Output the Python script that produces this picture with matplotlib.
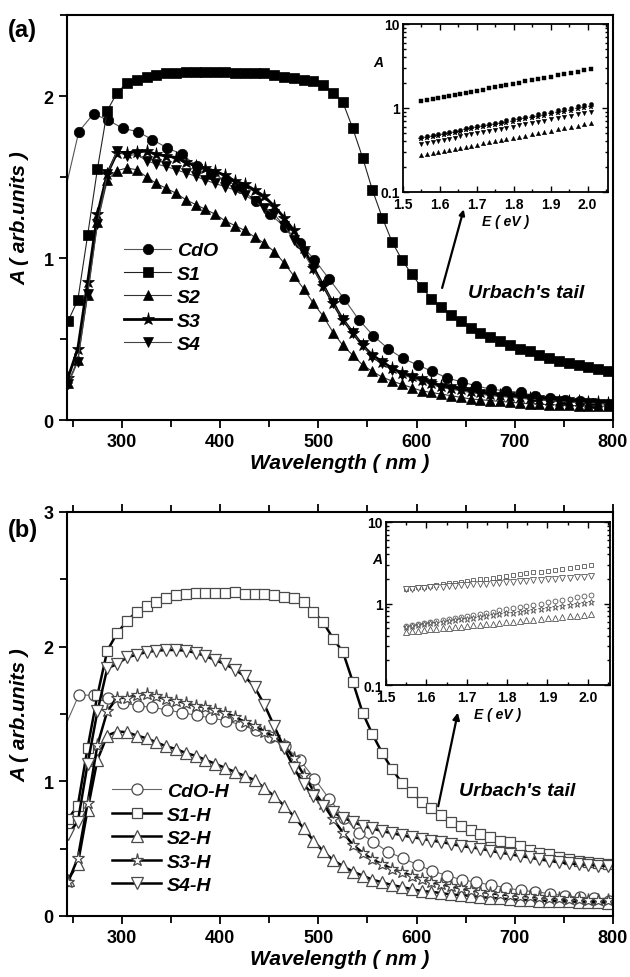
import matplotlib
matplotlib.use("Agg")
import matplotlib.pyplot as plt
from matplotlib.ticker import MultipleLocator, NullFormatter, LogLocator

plt.rcParams['font.family'] = ['Liberation Sans', 'DejaVu Sans']
plt.rcParams['font.weight'] = 'bold'
plt.rcParams['axes.labelweight'] = 'bold'

# ---------------- data ----------------
# wavelength grids (nm)
wl = [245, 255, 265, 275, 285, 295, 305, 315, 325, 335, 345, 355, 365, 375, 385, 395,
      405, 415, 425, 435, 445, 455, 465, 475, 485, 495, 505, 515, 525, 535, 545, 555,
      565, 575, 585, 595, 605, 615, 625, 635, 645, 655, 665, 675, 685, 695, 705, 715,
      725, 735, 745, 755, 765, 775, 785, 795]
wl_cdo = [232, 256, 271, 286, 301, 316, 331, 346, 361, 376, 391, 406, 421, 436, 451, 466,
          481, 496, 511, 526, 541, 556, 571, 586, 601, 616, 631, 646, 661, 676, 691, 706,
          721, 736, 751, 766, 781, 796]

# panel (a) as-deposited films
cdo_a = [1.15, 1.78, 1.89, 1.85, 1.80, 1.78, 1.73, 1.68, 1.64, 1.57, 1.52, 1.48, 1.43, 1.35,
         1.27, 1.19, 1.09, 0.99, 0.87, 0.75, 0.62, 0.52, 0.44, 0.38, 0.34, 0.30, 0.26, 0.235,
         0.21, 0.19, 0.18, 0.17, 0.15, 0.135, 0.125, 0.12, 0.105, 0.095]
s1_a = [0.61, 0.74, 1.14, 1.55, 1.91, 2.02,
        2.08, 2.10, 2.12, 2.13, 2.14, 2.145, 2.15, 2.15, 2.15, 2.15,
        2.15, 2.145, 2.14, 2.14, 2.14, 2.13, 2.12, 2.11, 2.10, 2.09,
        2.07, 2.02, 1.96, 1.80, 1.62, 1.42, 1.25, 1.10, 0.99, 0.90,
        0.82, 0.75, 0.70, 0.65, 0.61, 0.57, 0.54, 0.51, 0.49, 0.46,
        0.44, 0.425, 0.40, 0.38, 0.365, 0.35, 0.34, 0.33, 0.315, 0.30]
s2_a = [0.23, 0.37, 0.77, 1.22, 1.48, 1.54,
        1.555, 1.545, 1.50, 1.46, 1.43, 1.40, 1.36, 1.33, 1.30, 1.27,
        1.23, 1.20, 1.17, 1.13, 1.09, 1.04, 0.97, 0.89, 0.81, 0.72,
        0.64, 0.54, 0.46, 0.40, 0.34, 0.30, 0.265, 0.24, 0.22, 0.20,
        0.18, 0.17, 0.16, 0.15, 0.14, 0.13, 0.125, 0.12, 0.115, 0.11,
        0.105, 0.10, 0.098, 0.095, 0.093, 0.09, 0.088, 0.087, 0.086, 0.085]
s3_a = [0.26, 0.44, 0.85, 1.27, 1.52, 1.65,
        1.65, 1.655, 1.66, 1.64, 1.63, 1.62, 1.59, 1.57, 1.555, 1.535,
        1.51, 1.475, 1.455, 1.42, 1.38, 1.32, 1.25, 1.17, 1.06, 0.94,
        0.83, 0.72, 0.62, 0.54, 0.46, 0.40, 0.36, 0.32, 0.29, 0.27,
        0.25, 0.23, 0.21, 0.20, 0.19, 0.18, 0.17, 0.16, 0.155, 0.15,
        0.14, 0.135, 0.13, 0.125, 0.12, 0.118, 0.115, 0.112, 0.11, 0.105]
s4_a = [0.22, 0.36, 0.78, 1.21, 1.52, 1.66,
        1.63, 1.64, 1.60, 1.58, 1.565, 1.545, 1.525, 1.505, 1.48, 1.46,
        1.44, 1.42, 1.39, 1.35, 1.31, 1.27, 1.20, 1.11, 1.03, 0.93,
        0.83, 0.72, 0.62, 0.54, 0.46, 0.39, 0.35, 0.31, 0.28, 0.26,
        0.24, 0.22, 0.20, 0.19, 0.18, 0.17, 0.16, 0.15, 0.145, 0.14,
        0.135, 0.13, 0.125, 0.12, 0.115, 0.11, 0.108, 0.105, 0.10, 0.10]

# panel (b) annealed films
cdo_b = [1.24, 1.64, 1.64, 1.62, 1.585, 1.56, 1.55, 1.53, 1.51, 1.49, 1.47, 1.45, 1.42, 1.38,
         1.33, 1.26, 1.16, 1.02, 0.87, 0.73, 0.62, 0.55, 0.475, 0.43, 0.38, 0.335, 0.30, 0.27,
         0.25, 0.23, 0.21, 0.19, 0.18, 0.165, 0.15, 0.14, 0.13, 0.115]
s1_b = [0.72, 0.82, 1.25, 1.64, 1.97, 2.10,
        2.19, 2.26, 2.30, 2.33, 2.36, 2.38, 2.39, 2.40, 2.40, 2.40,
        2.40, 2.405, 2.39, 2.39, 2.39, 2.38, 2.37, 2.36, 2.33, 2.26,
        2.18, 2.06, 1.96, 1.74, 1.51, 1.35, 1.21, 1.09, 0.99, 0.92,
        0.85, 0.80, 0.75, 0.70, 0.67, 0.64, 0.61, 0.585, 0.56, 0.55,
        0.52, 0.49, 0.47, 0.46, 0.44, 0.42, 0.41, 0.40, 0.39, 0.385]
s2_b = [0.27, 0.385, 0.79, 1.16, 1.34, 1.37,
        1.365, 1.34, 1.32, 1.29, 1.26, 1.24, 1.21, 1.19, 1.16, 1.13,
        1.10, 1.07, 1.04, 1.01, 0.95, 0.89, 0.82, 0.74, 0.65, 0.56,
        0.48, 0.415, 0.37, 0.33, 0.30, 0.27, 0.25, 0.23, 0.215, 0.20,
        0.185, 0.18, 0.17, 0.16, 0.155, 0.15, 0.14, 0.135, 0.13, 0.125,
        0.12, 0.118, 0.115, 0.112, 0.11, 0.108, 0.105, 0.103, 0.101, 0.10]
s3_b = [0.25, 0.43, 0.84, 1.27, 1.52, 1.62,
        1.62, 1.64, 1.65, 1.63, 1.61, 1.60, 1.58, 1.56, 1.55, 1.53,
        1.51, 1.48, 1.44, 1.41, 1.37, 1.33, 1.27, 1.17, 1.05, 0.93,
        0.83, 0.72, 0.62, 0.53, 0.47, 0.42, 0.385, 0.35, 0.325, 0.30,
        0.275, 0.25, 0.235, 0.22, 0.205, 0.19, 0.18, 0.17, 0.16, 0.155,
        0.15, 0.145, 0.14, 0.135, 0.13, 0.128, 0.125, 0.122, 0.12, 0.118]
s4_b = [0.61, 0.70, 1.13, 1.52, 1.84, 1.87,
        1.92, 1.94, 1.96, 1.97, 1.975, 1.975, 1.97, 1.955, 1.93, 1.90,
        1.87, 1.83, 1.78, 1.70, 1.57, 1.41, 1.25, 1.10, 0.98, 0.89,
        0.82, 0.77, 0.73, 0.70, 0.67, 0.65, 0.63, 0.615, 0.60, 0.585,
        0.575, 0.56, 0.55, 0.535, 0.52, 0.51, 0.50, 0.485, 0.47, 0.46,
        0.445, 0.435, 0.42, 0.41, 0.40, 0.39, 0.385, 0.38, 0.375, 0.37]

# Urbach tail insets: photon energy (eV) and absorbance
energy = [1.55, 1.565, 1.58, 1.595, 1.61, 1.625, 1.64, 1.655, 1.67, 1.685, 1.70, 1.716,
          1.732, 1.748, 1.764, 1.78, 1.797, 1.814, 1.831, 1.848, 1.865, 1.883, 1.901,
          1.919, 1.937, 1.955, 1.973, 1.991, 2.009]
ins_cdo_a = [0.450, 0.464, 0.477, 0.492, 0.507, 0.522, 0.538, 0.554, 0.571, 0.588, 0.606,
             0.626, 0.646, 0.667, 0.689, 0.711, 0.735, 0.760, 0.786, 0.814, 0.842, 0.872,
             0.905, 0.936, 0.971, 1.006, 1.044, 1.081, 1.120]
ins_s1_a = [1.21, 1.25, 1.28, 1.32, 1.36, 1.40, 1.44, 1.48, 1.52, 1.57, 1.61, 1.66, 1.71,
            1.76, 1.82, 1.88, 1.94, 2.00, 2.07, 2.14, 2.21, 2.28, 2.36, 2.45, 2.53, 2.62,
            2.71, 2.81, 2.90]
ins_s2_a = [0.275, 0.283, 0.291, 0.300, 0.308, 0.317, 0.326, 0.336, 0.346, 0.356, 0.366,
            0.378, 0.389, 0.401, 0.414, 0.426, 0.441, 0.455, 0.470, 0.485, 0.501, 0.519,
            0.537, 0.556, 0.575, 0.596, 0.617, 0.639, 0.660]
ins_s3_a = [0.430, 0.442, 0.455, 0.469, 0.482, 0.496, 0.510, 0.525, 0.541, 0.556, 0.572,
            0.590, 0.608, 0.627, 0.647, 0.667, 0.689, 0.711, 0.735, 0.759, 0.784, 0.811,
            0.840, 0.869, 0.899, 0.931, 0.964, 0.998, 1.032]
ins_s4_a = [0.375, 0.386, 0.397, 0.409, 0.420, 0.432, 0.445, 0.458, 0.471, 0.485, 0.499,
            0.515, 0.531, 0.547, 0.564, 0.581, 0.601, 0.620, 0.641, 0.662, 0.684, 0.707,
            0.733, 0.758, 0.784, 0.812, 0.841, 0.871, 0.900]
ins_cdo_b = [0.530, 0.545, 0.561, 0.578, 0.594, 0.611, 0.629, 0.648, 0.666, 0.685, 0.705,
             0.728, 0.750, 0.773, 0.797, 0.822, 0.849, 0.877, 0.906, 0.935, 0.966, 1.000,
             1.036, 1.072, 1.108, 1.148, 1.189, 1.231, 1.272]
ins_s1_b = [1.510, 1.544, 1.578, 1.613, 1.650, 1.686, 1.724, 1.763, 1.801, 1.842, 1.883,
            1.929, 1.975, 2.021, 2.069, 2.119, 2.172, 2.227, 2.284, 2.342, 2.401, 2.465,
            2.532, 2.600, 2.670, 2.741, 2.816, 2.891, 2.969]
ins_s2_b = [0.450, 0.457, 0.465, 0.472, 0.480, 0.488, 0.496, 0.504, 0.512, 0.521, 0.529,
            0.539, 0.548, 0.558, 0.567, 0.577, 0.588, 0.599, 0.610, 0.621, 0.633, 0.645,
            0.658, 0.671, 0.684, 0.698, 0.712, 0.725, 0.740]
ins_s3_b = [0.520, 0.532, 0.544, 0.556, 0.569, 0.582, 0.596, 0.609, 0.623, 0.638, 0.652,
            0.668, 0.685, 0.701, 0.718, 0.736, 0.755, 0.775, 0.795, 0.815, 0.837, 0.860,
            0.883, 0.908, 0.933, 0.958, 0.985, 1.012, 1.040]
ins_s4_b = [1.500, 1.518, 1.536, 1.555, 1.574, 1.593, 1.613, 1.632, 1.652, 1.672, 1.692,
            1.715, 1.737, 1.759, 1.782, 1.805, 1.829, 1.855, 1.880, 1.906, 1.932, 1.960,
            1.989, 2.018, 2.048, 2.077, 2.108, 2.138, 2.169]

labels_a = ["CdO", "S1", "S2", "S3", "S4"]
labels_b = ["CdO-H", "S1-H", "S2-H", "S3-H", "S4-H"]
markers = ["o", "s", "^", "*", "v"]
msizes = [7.5, 6.5, 7.5, 9.5, 7.5]                 # main-plot marker sizes
ins_msizes = [3.0, 2.8, 3.2, 4.0, 3.2]             # inset marker sizes
lw_a = [0.8, 0.8, 0.8, 2.0, 0.8]
lc_a = ["#555555", "#222222", "#333333", "black", "#444444"]
lw_b = [0.8, 1.8, 1.8, 1.8, 1.8]
lc_b = ["#666666", "black", "black", "black", "black"]

W, H = 630, 978
fig = plt.figure(figsize=(W / 100, H / 100), dpi=100)


def style_main(ax, ymax, top_ticks):
    ax.set_xlim(244, 800)
    ax.set_ylim(0, ymax)
    ax.xaxis.set_major_locator(MultipleLocator(100))
    ax.xaxis.set_minor_locator(MultipleLocator(50))
    ax.yaxis.set_major_locator(MultipleLocator(1))
    ax.yaxis.set_minor_locator(MultipleLocator(0.5))
    ax.tick_params(which="both", direction="out", width=1.3, labelsize=13,
                   top=top_ticks, right=False, labeltop=False)
    ax.tick_params(which="major", length=6)
    ax.tick_params(which="minor", length=5)
    for s in ax.spines.values():
        s.set_linewidth(1.5)
    for lab in ax.get_xticklabels() + ax.get_yticklabels():
        lab.set_fontweight("bold")
    ax.set_xlabel("Wavelength ( nm )", fontsize=15, fontstyle="italic", labelpad=2)
    ax.set_ylabel("A ( arb.units )", fontsize=15, fontstyle="italic", labelpad=10)


def style_inset(ax):
    ax.set_yscale("log")
    ax.set_xlim(1.5, 2.055)
    ax.set_ylim(0.1, 10)
    ax.set_yticks([0.1, 1, 10])
    ax.set_yticklabels(["0.1", "1", "10"])
    ax.yaxis.set_minor_locator(LogLocator(base=10, subs=range(2, 10)))
    ax.yaxis.set_minor_formatter(NullFormatter())
    ax.xaxis.set_major_locator(MultipleLocator(0.1))
    ax.xaxis.set_minor_locator(MultipleLocator(0.05))
    ax.xaxis.set_major_formatter(plt.FuncFormatter(lambda v, p: "%.1f" % v))
    ax.tick_params(which="both", direction="in", top=True, right=True,
                   labelsize=10, width=1.0)
    ax.tick_params(axis="x", pad=3.5)
    ax.tick_params(axis="y", pad=2.5)
    ax.tick_params(which="major", length=4)
    ax.tick_params(which="minor", length=2.5)
    for s in ax.spines.values():
        s.set_linewidth(1.3)
    for lab in ax.get_xticklabels() + ax.get_yticklabels():
        lab.set_fontweight("bold")
    ax.set_xlabel("E ( eV )", fontsize=10, fontstyle="italic", labelpad=2)


# ---------------- panel (a) ----------------
axa = fig.add_axes([67 / W, 1 - 421 / H, 546 / W, 405 / H])
series_a = [(wl_cdo, cdo_a), (wl, s1_a), (wl, s2_a), (wl, s3_a), (wl, s4_a)]
for i, (x, y) in enumerate(series_a):
    axa.plot(x, y, color=lc_a[i], linewidth=lw_a[i], marker=markers[i],
             markersize=msizes[i], markerfacecolor="black", markeredgecolor="black",
             markeredgewidth=0.5, label=labels_a[i])
style_main(axa, 2.5, False)
axa.legend(loc="upper left", bbox_to_anchor=(0.105, 0.44), frameon=False,
           prop=dict(size=14, weight="bold", style="italic"), handlelength=2.4,
           handletextpad=0.3, labelspacing=0.3, borderpad=0, borderaxespad=0)
axa.annotate("", xy=(648, 1.30), xytext=(626, 0.815),
             arrowprops=dict(arrowstyle="-|>", color="black", lw=1.6,
                             mutation_scale=8, shrinkA=0, shrinkB=0))
axa.text(652, 0.79, "Urbach's tail", fontsize=14, fontweight="bold",
         fontstyle="italic", va="center", ha="left")
fig.text(8 / W, 1 - 30 / H, "(a)", fontsize=17, fontweight="bold", va="center")

insa = fig.add_axes([403 / W, 1 - 193 / H, 205 / W, 168 / H])
ins_a = [ins_cdo_a, ins_s1_a, ins_s2_a, ins_s3_a, ins_s4_a]
for i, y in enumerate(ins_a):
    insa.plot(energy, y, linestyle="none", marker=markers[i], markersize=ins_msizes[i],
              markerfacecolor="black", markeredgecolor="black", markeredgewidth=0.3)
style_inset(insa)
insa.text(-0.12, 0.775, "A", transform=insa.transAxes, fontsize=10,
          fontweight="bold", fontstyle="italic", ha="center", va="center")

# ---------------- panel (b) ----------------
axb = fig.add_axes([67 / W, 1 - 917 / H, 546 / W, 404 / H])
series_b = [(wl_cdo, cdo_b), (wl, s1_b), (wl, s2_b), (wl, s3_b), (wl, s4_b)]
for i, (x, y) in enumerate(series_b):
    axb.plot(x, y, color=lc_b[i], linewidth=lw_b[i], marker=markers[i],
             markersize=msizes[i] + (0.5 if i != 3 else 0), markerfacecolor="white",
             markeredgecolor="#4a4a4a", markeredgewidth=0.9, label=labels_b[i])
style_main(axb, 3, True)
axb.legend(loc="upper left", bbox_to_anchor=(0.083, 0.33), frameon=False,
           prop=dict(size=14, weight="bold", style="italic"), handlelength=2.5,
           handletextpad=0.3, labelspacing=0.3, borderpad=0, borderaxespad=0)
axb.annotate("", xy=(642, 1.51), xytext=(622, 0.815),
             arrowprops=dict(arrowstyle="-|>", color="black", lw=1.6,
                             mutation_scale=10, shrinkA=0, shrinkB=0))
axb.text(643, 0.93, "Urbach's tail", fontsize=14, fontweight="bold",
         fontstyle="italic", va="center", ha="left")
fig.text(8 / W, 1 - 530 / H, "(b)", fontsize=17, fontweight="bold", va="center")

insb = fig.add_axes([386 / W, 1 - 686 / H, 224 / W, 163 / H])
ins_b = [ins_cdo_b, ins_s1_b, ins_s2_b, ins_s3_b, ins_s4_b]
for i, y in enumerate(ins_b):
    insb.plot(energy, y, linestyle="none", marker=markers[i], markersize=ins_msizes[i] + 0.5,
              markerfacecolor="white", markeredgecolor="#555555", markeredgewidth=0.6)
style_inset(insb)
insb.text(-0.04, 0.775, "A", transform=insb.transAxes, fontsize=10,
          fontweight="bold", fontstyle="italic", ha="center", va="center")

fig.savefig("out.png", dpi=100)
